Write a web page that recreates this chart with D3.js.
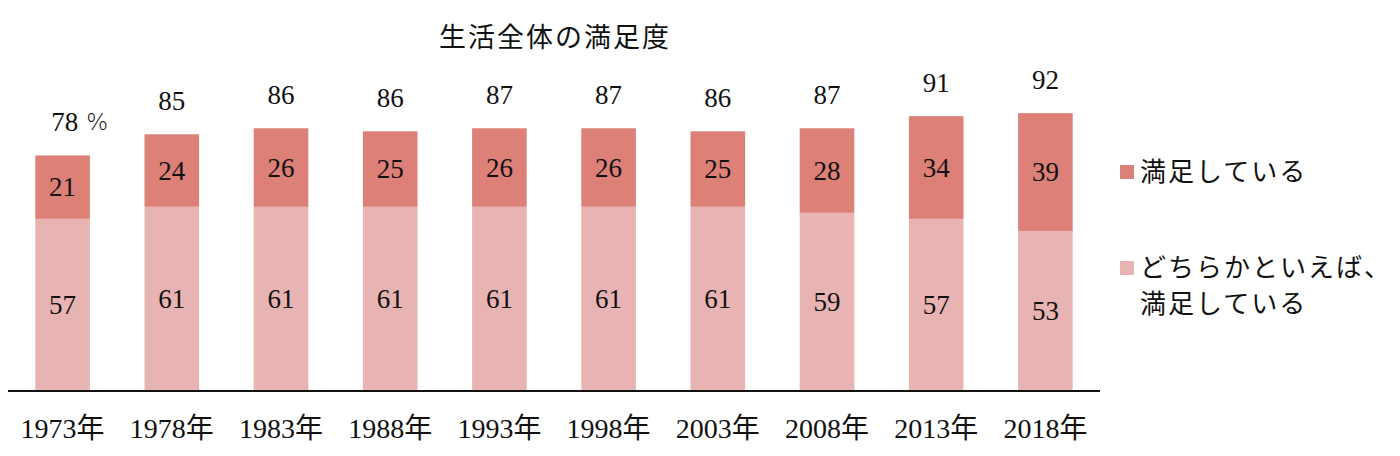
<!DOCTYPE html>
<html><head><meta charset="utf-8">
<script src="https://cdn.jsdelivr.net/npm/d3@7"></script>
<style>
html,body{margin:0;padding:0;background:#fff;}
text{font-family:"Liberation Serif","Noto Sans CJK JP",serif;fill:#111;}
</style></head>
<body>
<svg id="c" width="1400" height="456"></svg>
<script>
const years = ["1973年","1978年","1983年","1988年","1993年","1998年","2003年","2008年","2013年","2018年"];
const satisfied = [21,24,26,25,26,26,25,28,34,39];
const somewhat = [57,61,61,61,61,61,61,59,57,53];
const totals = [78,85,86,86,87,87,86,87,91,92];
const seriesNames = ["満足している","どちらかといえば、満足している"];
const colors = ["#dc8078","#e8b4b3"];
const title = "生活全体の満足度";

const svg = d3.select("#c");
const x = d3.scaleBand().domain(years).range([8,1100]).paddingInner(0.5).paddingOuter(0.25);
const y = d3.scaleLinear().domain([0,100]).range([391,89]);

const rows = years.map((yr,i)=>({yr, a:somewhat[i], b:satisfied[i], t:totals[i]}));

svg.append("g").selectAll("rect").data(rows).join("rect")
  .attr("x",d=>x(d.yr)).attr("width",x.bandwidth())
  .attr("y",d=>y(d.a)).attr("height",d=>y(0)-y(d.a))
  .attr("fill",colors[1]);
svg.append("g").selectAll("rect").data(rows).join("rect")
  .attr("x",d=>x(d.yr)).attr("width",x.bandwidth())
  .attr("y",d=>y(d.a+d.b)).attr("height",d=>y(d.a)-y(d.a+d.b))
  .attr("fill",colors[0]);

const fs = 27;
svg.append("g").selectAll("text").data(rows).join("text")
  .attr("x",d=>x(d.yr)+x.bandwidth()/2).attr("y",d=>(y(0)+y(d.a))/2)
  .attr("text-anchor","middle").attr("dominant-baseline","central")
  .attr("font-size",fs).text(d=>d.a);
svg.append("g").selectAll("text").data(rows).join("text")
  .attr("x",d=>x(d.yr)+x.bandwidth()/2).attr("y",d=>(y(d.a)+y(d.a+d.b))/2)
  .attr("text-anchor","middle").attr("dominant-baseline","central")
  .attr("font-size",fs).text(d=>d.b);
const tl = svg.append("g").selectAll("text").data(rows).join("text")
  .attr("x",(d,i)=>x(d.yr)+x.bandwidth()/2 + (i===0?17:0)).attr("y",d=>y(d.a+d.b)-33)
  .attr("text-anchor","middle").attr("dominant-baseline","central")
  .attr("font-size",fs);
tl.append("tspan").text(d=>d.t);
tl.filter((d,i)=>i===0).append("tspan").attr("font-family","DejaVu Sans").attr("font-weight","200").attr("font-size",23).attr("dx",8).text("%");

const ax = svg.append("g").attr("transform","translate(0,391)")
  .call(d3.axisBottom(x).tickSize(0).tickPadding(0));
ax.select(".domain").attr("d","M8,0H1100").attr("stroke","#111").attr("stroke-width",2);
ax.selectAll(".tick text").attr("font-size",28).attr("y",37).attr("dy","0")
  .attr("dominant-baseline","central").style("font-family",'"Liberation Serif","Noto Sans CJK JP",serif').attr("fill","#111");

svg.append("text").attr("x",555).attr("y",38).attr("text-anchor","middle")
  .attr("dominant-baseline","central").attr("font-size",27).attr("letter-spacing",2).text(title);

const lg = svg.append("g");
const lfs = 26;
lg.append("rect").attr("x",1120).attr("y",165).attr("width",14).attr("height",14).attr("fill",colors[0]);
lg.append("text").attr("x",1140).attr("y",172).attr("dominant-baseline","central").attr("font-size",lfs).attr("letter-spacing",2).text(seriesNames[0]);
lg.append("rect").attr("x",1120).attr("y",261).attr("width",14).attr("height",14).attr("fill",colors[1]);
lg.append("text").attr("x",1140).attr("y",268).attr("dominant-baseline","central").attr("font-size",lfs).attr("letter-spacing",2).text(seriesNames[1].slice(0,9));
lg.append("text").attr("x",1140).attr("y",304).attr("dominant-baseline","central").attr("font-size",lfs).attr("letter-spacing",2).text(seriesNames[1].slice(9));
</script>
</body></html>
